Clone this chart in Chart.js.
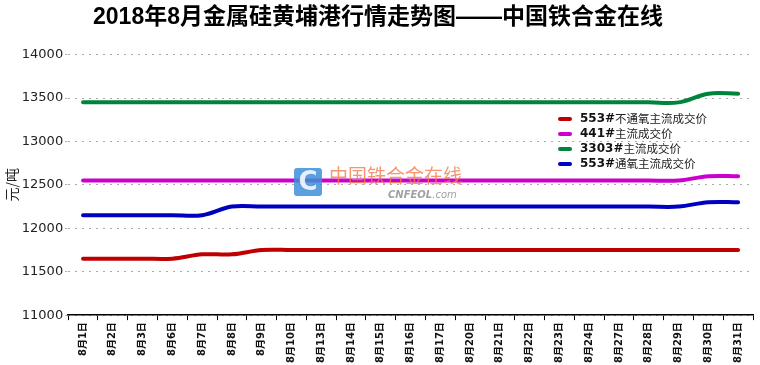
<!DOCTYPE html>
<html>
<head>
<meta charset="utf-8">
<script src="https://cdn.jsdelivr.net/npm/chart.js@4"></script>
<style>
  html, body { margin: 0; padding: 0; background: #fff; }
  #wrap { width: 760px; height: 365px; position: relative; }
</style>
</head>
<body>
<div id="wrap"><canvas id="priceChart" width="760" height="365"></canvas></div>
<script>
const dates = ["8月1日", "8月2日", "8月3日", "8月6日", "8月7日", "8月8日", "8月9日", "8月10日",
  "8月13日", "8月14日", "8月15日", "8月16日", "8月17日", "8月20日", "8月21日", "8月22日",
  "8月23日", "8月24日", "8月27日", "8月28日", "8月29日", "8月30日", "8月31日"];

const price553NoOxy = [11650, 11650, 11650, 11650, 11700, 11700, 11750, 11750, 11750, 11750, 11750, 11750,
  11750, 11750, 11750, 11750, 11750, 11750, 11750, 11750, 11750, 11750, 11750];
const price441 = [12550, 12550, 12550, 12550, 12550, 12550, 12550, 12550, 12550, 12550, 12550, 12550,
  12550, 12550, 12550, 12550, 12550, 12550, 12550, 12550, 12550, 12600, 12600];
const price3303 = [13450, 13450, 13450, 13450, 13450, 13450, 13450, 13450, 13450, 13450, 13450, 13450,
  13450, 13450, 13450, 13450, 13450, 13450, 13450, 13450, 13450, 13550, 13550];
const price553Oxy = [12150, 12150, 12150, 12150, 12150, 12250, 12250, 12250, 12250, 12250, 12250, 12250,
  12250, 12250, 12250, 12250, 12250, 12250, 12250, 12250, 12250, 12300, 12300];

const seriesNames = ["553#不通氧主流成交价", "441#主流成交价", "3303#主流成交价", "553#通氧主流成交价"];
const seriesColors = ["#c00000", "#cc00cc", "#00843c", "#0000c0"];

const cjk = "'DejaVu Sans', 'Noto Sans CJK SC', sans-serif";

function makeSet(i, values) {
  return {
    label: seriesNames[i],
    data: values,
    borderColor: seriesColors[i],
    backgroundColor: seriesColors[i],
    borderWidth: 4,
    borderCapStyle: "round",
    pointRadius: 0,
    tension: 0.35,
    fill: false
  };
}

// legend drawn inside the plot area
const legendInside = {
  id: "legendInside",
  afterDatasetsDraw(chart) {
    const ctx = chart.ctx;
    ctx.save();
    chart.data.datasets.forEach((ds, i) => {
      const y = 119 + i * 15;
      ctx.strokeStyle = ds.borderColor;
      ctx.lineWidth = 4;
      ctx.lineCap = "round";
      ctx.beginPath();
      ctx.moveTo(560, y);
      ctx.lineTo(570, y);
      ctx.stroke();
      const parts = ds.label.split("#");
      ctx.fillStyle = "#111";
      ctx.textBaseline = "middle";
      ctx.font = "bold 12px " + cjk;
      ctx.fillText(parts[0] + "#", 580, y);
      const w = ctx.measureText(parts[0] + "#").width;
      ctx.font = "11.5px 'Noto Sans CJK SC', sans-serif";
      ctx.fillStyle = "#222";
      ctx.fillText(parts[1], 580 + w, y);
    });
    ctx.restore();
  }
};

// site watermark on top of the lines
const watermark = {
  id: "watermark",
  afterDatasetsDraw(chart) {
    const ctx = chart.ctx;
    ctx.save();
    ctx.globalAlpha = 0.85;
    ctx.fillStyle = "#3d8fd8";
    ctx.beginPath();
    ctx.roundRect(294, 168, 28, 28, 3);
    ctx.fill();
    ctx.fillStyle = "#fff";
    ctx.font = "bold 26px 'DejaVu Sans', sans-serif";
    ctx.textAlign = "center";
    ctx.textBaseline = "middle";
    ctx.fillText("C", 308, 183);
    ctx.globalAlpha = 0.8;
    ctx.fillStyle = "#f47a4a";
    ctx.textAlign = "left";
    ctx.font = "19px 'Noto Sans CJK SC', sans-serif";
    ctx.fillText("中国铁合金在线", 329, 176);
    ctx.fillStyle = "#8a8a8a";
    ctx.font = "italic bold 10px 'DejaVu Sans', sans-serif";
    ctx.fillText("CNFEOL", 388, 195);
    const w = ctx.measureText("CNFEOL").width;
    ctx.font = "italic 10px 'DejaVu Sans', sans-serif";
    ctx.fillText(".com", 388 + w, 195);
    ctx.restore();
  }
};

new Chart(document.getElementById("priceChart"), {
  type: "line",
  data: {
    labels: dates,
    datasets: [
      makeSet(0, price553NoOxy),
      makeSet(1, price441),
      makeSet(2, price3303),
      makeSet(3, price553Oxy)
    ]
  },
  options: {
    responsive: false,
    animation: false,
    devicePixelRatio: 1,
    layout: { padding: { left: 3, right: 7, top: 0, bottom: 0 } },
    plugins: {
      legend: { display: false },
      tooltip: { enabled: false },
      title: {
        display: true,
        text: "2018年8月金属硅黄埔港行情走势图——中国铁合金在线",
        color: "#000",
        font: { size: 23, weight: "bold", family: "'Liberation Sans', 'Noto Sans CJK SC', sans-serif" },
        padding: { top: 4, bottom: 23 }
      }
    },
    scales: {
      x: {
        offset: true,
        grid: {
          display: true,
          drawOnChartArea: false,
          drawTicks: true,
          tickLength: 5,
          offset: true,
          color: "#000"
        },
        border: { display: true, color: "#000", width: 1.5 },
        ticks: {
          minRotation: 90,
          maxRotation: 90,
          autoSkip: false,
          color: "#111",
          padding: 2,
          font: { size: 10, weight: "bold", family: cjk }
        }
      },
      y: {
        min: 11000,
        max: 14000,
        grid: {
          color: "#aaa",
          lineWidth: 1,
          drawTicks: true,
          tickLength: 3,
          tickBorderDash: [2, 5],
          borderDash: [2, 5]
        },
        border: { display: false, dash: [2, 5] },
        title: {
          display: true,
          text: "元/吨",
          color: "#222",
          font: { size: 14, family: "'Noto Sans CJK SC', sans-serif" },
          padding: { top: 0, bottom: 0 }
        },
        ticks: {
          stepSize: 500,
          color: "#222",
          padding: 2,
          font: { size: 13, family: "'DejaVu Sans', sans-serif" },
          callback: (v) => String(v)
        }
      }
    }
  },
  plugins: [watermark, legendInside]
});
</script>
</body>
</html>
